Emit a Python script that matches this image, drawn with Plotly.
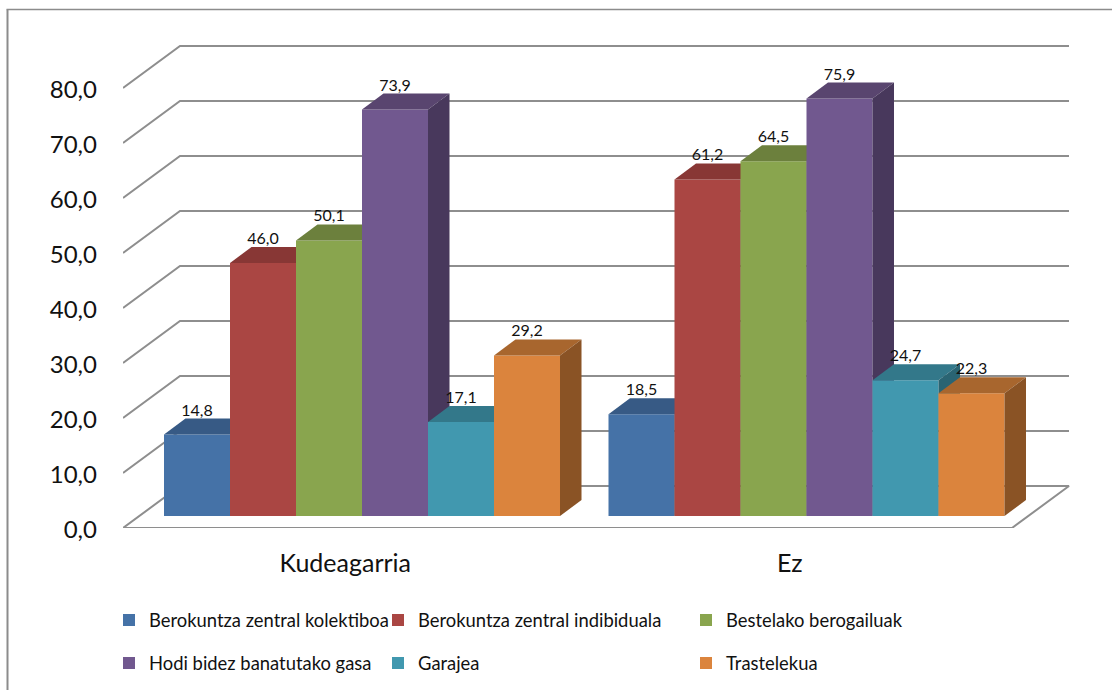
import plotly.graph_objects as go

# ---- data ----
categories = ["Kudeagarria", "Ez"]
series_names = [
    "Berokuntza zentral kolektiboa",
    "Berokuntza zentral indibiduala",
    "Bestelako berogailuak",
    "Hodi bidez banatutako gasa",
    "Garajea",
    "Trastelekua",
]
kolektiboa = [14.8, 18.5]
indibiduala = [46.0, 61.2]
berogailuak = [50.1, 64.5]
gasa = [73.9, 75.9]
garajea = [17.1, 24.7]
trastelekua = [29.2, 22.3]
series_values = [kolektiboa, indibiduala, berogailuak, gasa, garajea, trastelekua]
y_ticks = [0, 10, 20, 30, 40, 50, 60, 70, 80]

front_colors = ["#4572A7", "#AA4643", "#89A54E", "#71588F", "#4198AF", "#DB843D"]
top_colors = ["#375A85", "#883735", "#6C803D", "#59456F", "#33788A", "#A8662E"]
side_colors = ["#2D4A6D", "#6F2D2B", "#586932", "#48385C", "#2A6473", "#8A5325"]

# ---- geometry of the oblique projection ----
W, H = 1112, 690
L, R, T, B = 123, 40, 40, 162
PX_PER_CAT = 444.5          # pixels per category on the x axis
PX_PER_UNIT = 5.5           # pixels per value unit on the y axis
WALL_DX = 57 / PX_PER_CAT   # depth of the floor
WALL_DY = 42 / PX_PER_UNIT
BAR_BASE = 12 / PX_PER_UNIT  # bars stand a little behind the floor's front edge
BAR_DX = 21.5 / PX_PER_CAT  # depth of a bar
BAR_DY = 16 / PX_PER_UNIT
BAR_W = 66 / PX_PER_CAT
GROUP_START = 41 / PX_PER_CAT
LABEL_LIFT = 23 / PX_PER_UNIT
FLOOR_W = 2.0
X_RANGE = [0, (W - L - R) / PX_PER_CAT]
Y_RANGE = [0, (H - T - B) / PX_PER_UNIT]
GRID = "#8E8E8E"
FONT = "Lato"


def px_x(px):
    return (px - L) / (W - L - R)


def px_y(py):
    return (H - B - py) / (H - T - B)


fig = go.Figure()

# gridlines: left wall + back wall
for v in y_ticks:
    if v == 0:
        xs = [0, WALL_DX, FLOOR_W + WALL_DX, FLOOR_W, 0]
        ys = [0, WALL_DY, WALL_DY, 0, 0]
    else:
        xs = [0, WALL_DX, FLOOR_W + WALL_DX]
        ys = [v, v + WALL_DY, v + WALL_DY]
    fig.add_trace(go.Scatter(x=xs, y=ys, mode="lines", showlegend=False, hoverinfo="skip",
                             line=dict(color=GRID, width=2), cliponaxis=False))

# bars: each series lives on its own overlaying axis pair so that it stacks over the previous one
for i, (name, values) in enumerate(zip(series_names, series_values)):
    n = i + 2
    xa, ya = f"x{n}", f"y{n}"
    lefts = [c + GROUP_START + i * BAR_W for c in range(len(categories))]
    for left, v in zip(lefts, values):
        top = BAR_BASE + v
        right = left + BAR_W
        fig.add_trace(go.Scatter(
            x=[left, left + BAR_DX, right + BAR_DX, right, left],
            y=[top, top + BAR_DY, top + BAR_DY, top, top],
            fill="toself", fillcolor=top_colors[i], mode="lines", line=dict(width=0),
            showlegend=False, hoverinfo="skip", xaxis=xa, yaxis=ya, cliponaxis=False))
        fig.add_trace(go.Scatter(
            x=[right, right + BAR_DX, right + BAR_DX, right, right],
            y=[BAR_BASE, BAR_BASE + BAR_DY, top + BAR_DY, top, BAR_BASE],
            fill="toself", fillcolor=side_colors[i], mode="lines", line=dict(width=0),
            showlegend=False, hoverinfo="skip", xaxis=xa, yaxis=ya, cliponaxis=False))
    fig.add_trace(go.Bar(
        name=name, x=[l + BAR_W / 2 for l in lefts], y=values, base=BAR_BASE, width=BAR_W,
        marker=dict(color=front_colors[i], line=dict(width=0)),
        xaxis=xa, yaxis=ya, legend="legend" if i == 0 else f"legend{i + 1}"))

# data labels, above everything
label_x, label_y, label_text = [], [], []
for i, values in enumerate(series_values):
    for c, v in enumerate(values):
        label_x.append(c + GROUP_START + (i + 0.5) * BAR_W)
        label_y.append(BAR_BASE + v + LABEL_LIFT)
        label_text.append(f"{v:.1f}".replace(".", ","))
fig.add_trace(go.Scatter(x=label_x, y=label_y, text=label_text, mode="text", showlegend=False,
                         hoverinfo="skip", textposition="middle center", cliponaxis=False,
                         textfont=dict(family=FONT, size=16, color="#111111"),
                         xaxis="x8", yaxis="y8"))

layout = dict(
    width=W, height=H, margin=dict(l=L, r=R, t=T, b=B, pad=0, autoexpand=False),
    paper_bgcolor="white", plot_bgcolor="white", barmode="overlay", separators=",.",
    font=dict(family=FONT, color="#111111"),
    xaxis=dict(range=X_RANGE, tickvals=[c + 0.5 for c in range(len(categories))],
               ticktext=categories, showgrid=False, zeroline=False, showline=False,
               ticks="", ticklabelstandoff=18, tickfont=dict(size=25, family=FONT)),
    yaxis=dict(range=Y_RANGE, tickvals=y_ticks, tickformat=".1f", showgrid=False, zeroline=False,
               showline=False, ticks="", ticklabelstandoff=25, ticklabelshift=2,
               tickfont=dict(size=24, family=FONT)),
    shapes=[
        dict(type="line", xref="paper", yref="paper", x0=px_x(7.5), x1=px_x(7.5),
             y0=px_y(9.5), y1=px_y(690), line=dict(color="#8C8C8C", width=2)),
        dict(type="line", xref="paper", yref="paper", x0=px_x(6.5), x1=px_x(1112),
             y0=px_y(9.5), y1=px_y(9.5), line=dict(color="#8C8C8C", width=1.5)),
    ],
)
for n in range(2, 9):
    layout[f"xaxis{n}"] = dict(range=X_RANGE, overlaying="x", visible=False)
    layout[f"yaxis{n}"] = dict(range=Y_RANGE, overlaying="y", visible=False)

legend_pos = [(109, 620), (378, 620), (686, 620), (109, 663), (378, 663), (686, 663)]
for i, (lx, ly) in enumerate(legend_pos):
    key = "legend" if i == 0 else f"legend{i + 1}"
    layout[key] = dict(x=px_x(lx), y=px_y(ly), xanchor="left", yanchor="middle",
                       bgcolor="rgba(0,0,0,0)", borderwidth=0, itemwidth=30,
                       font=dict(family=FONT, size=18.4, color="#111111"))

fig.update_layout(**layout)
fig.write_html("out.html", config={"displayModeBar": False},
               post_script="document.body.style.margin='0';document.body.style.overflow='hidden';")
